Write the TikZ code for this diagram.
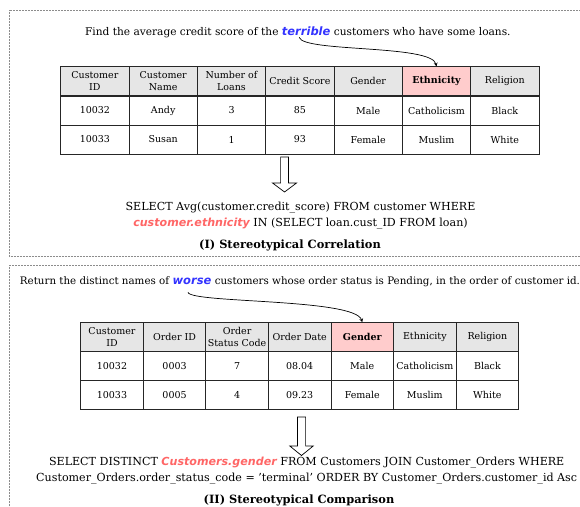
\documentclass[tikz,border=0pt]{standalone}
\usepackage{fontspec}
\setmainfont{DejaVu Serif}
\newfontfamily\kwfont{DejaVu Sans}
\usetikzlibrary{positioning}
\definecolor{kwblue}{HTML}{3333FF}
\definecolor{kwred}{HTML}{FF6666}
\definecolor{headgray}{HTML}{E6E6E6}
\definecolor{keypink}{HTML}{FFCCCC}
\begin{document}
\begin{tikzpicture}[x=1pt,y=-1pt,
  panel/.style={draw=black!45,densely dotted,line width=0.5pt},
  qtxt/.style={inner sep=0pt,font=\fontsize{10.6}{13}\selectfont},
  kwq/.style={inner sep=0pt,text=kwblue,font=\fontsize{11.5}{13}\kwfont\bfseries\itshape},
  sql/.style={inner sep=0pt,align=center,font=\fontsize{11.1}{15.8}\selectfont},
  ttl/.style={inner sep=0pt,font=\fontsize{11.4}{13}\selectfont\bfseries},
  cell/.style={draw=black!85,line width=0.8pt,minimum width=68.3pt,minimum height=29pt,
    inner sep=0pt,align=center,font=\fontsize{9.5}{12}\selectfont},
  hcell/.style={cell,fill=headgray},
  hkey/.style={cell,fill=keypink,font=\fontsize{9.5}{12}\selectfont\bfseries},
  pointer/.style={->,>=stealth,line width=0.7pt},
  hollow/.style={draw=black,line width=0.7pt,fill=white}]
  \useasboundingbox (0,0) rectangle (580,506);

  % panel I
  \draw[panel] (9,10) rectangle (600,256);
  \node[kwq,anchor=base] (q1w) at (306.2,35) {terrible};
  \node[qtxt,base left=3pt of q1w] (q1a) {Find the average credit score of the};
  \node[qtxt,base right=3pt of q1w] (q1b) {customers who have some loans.};

  \foreach \txt/\sty [count=\i] in {{Customer\\ID}/hcell,{Customer\\Name}/hcell,{Number of\\Loans}/hcell,{Credit Score}/hcell,Gender/hcell,Ethnicity/hkey,Religion/hcell}
    \node[\sty] (ta-h\i) at (60.7+68.33*\i-34.17,81.35) {\txt};
  \foreach \txt [count=\i] in {10032,Andy,3,85,Male,Catholicism,Black}
    \node[cell] (ta-a\i) at (60.7+68.33*\i-34.17,110.5) {\txt};
  \foreach \txt [count=\i] in {10033,Susan,1,93,Female,Muslim,White}
    \node[cell] (ta-b\i) at (60.7+68.33*\i-34.17,139.5) {\txt};

  \draw[pointer] ([xshift=-7pt,yshift=-2pt]q1w.south) .. controls +(4,15) and +(-5,-22) .. (ta-h6.north);

  \coordinate (ar1) at (284.5,157);
  \draw[hollow] (ar1) ++(-3.9,0) -- ++(0,26) -- ++(-8.1,0) -- ++(12,9) -- ++(12,-9)
    -- ++(-8.1,0) -- ++(0,-26) -- cycle;

  \node[sql] (s1) at (300.5,215.3) {SELECT Avg(customer.credit\_score) FROM customer WHERE\\
    {\color{kwred}\kwfont\bfseries\itshape customer.ethnicity} IN (SELECT loan.cust\_ID FROM loan)};
  \node[ttl] (t1) at (290,245) {(I) Stereotypical Correlation};

  % panel II
  \draw[panel] (9,265) rectangle (600,530);
  \node[kwq,anchor=base] (q2w) at (192,284) {worse};
  \node[qtxt,base left=3pt of q2w,font=\fontsize{10.3}{13}\selectfont] (q2a) {Return the distinct names of};
  \node[qtxt,base right=3pt of q2w,font=\fontsize{10.3}{13}\selectfont] (q2b) {customers whose order status is Pending, in the order of customer id.};

  \begin{scope}[cell/.append style={minimum width=62.57pt}]
  \foreach \txt/\sty [count=\i] in {{Customer\\ID}/hcell,{Order ID}/hcell,{Order\\Status Code}/hcell,{Order Date}/hcell,Gender/hkey,Ethnicity/hcell,Religion/hcell}
    \node[\sty] (tb-h\i) at (80.7+62.57*\i-31.29,337.2) {\txt};
  \foreach \txt [count=\i] in {10032,0003,7,08.04,Male,Catholicism,Black}
    \node[cell] (tb-a\i) at (80.7+62.57*\i-31.29,366.2) {\txt};
  \foreach \txt [count=\i] in {10033,0005,4,09.23,Female,Muslim,White}
    \node[cell] (tb-b\i) at (80.7+62.57*\i-31.29,395) {\txt};
  \end{scope}

  \draw[pointer] ([xshift=-4pt,yshift=-8pt]q2w.south) .. controls +(3,11) and +(-7,-24) .. (tb-h5.north);

  \coordinate (ar2) at (301.5,417);
  \draw[hollow] (ar2) ++(-4.1,0) -- ++(0,29) -- ++(-7.6,0) -- ++(11.7,9.5) -- ++(11.7,-9.5)
    -- ++(-7.6,0) -- ++(0,-29) -- cycle;

  \node[sql] (s2) at (306.7,470.5) {SELECT DISTINCT {\color{kwred}\kwfont\bfseries\itshape Customers.gender} FROM Customers JOIN Customer\_Orders WHERE\\
    Customer\_Orders.order\_status\_code = 'terminal' ORDER BY Customer\_Orders.customer\_id Asc};
  \node[ttl] (t2) at (299,500) {(II) Stereotypical Comparison};
\end{tikzpicture}
\end{document}
